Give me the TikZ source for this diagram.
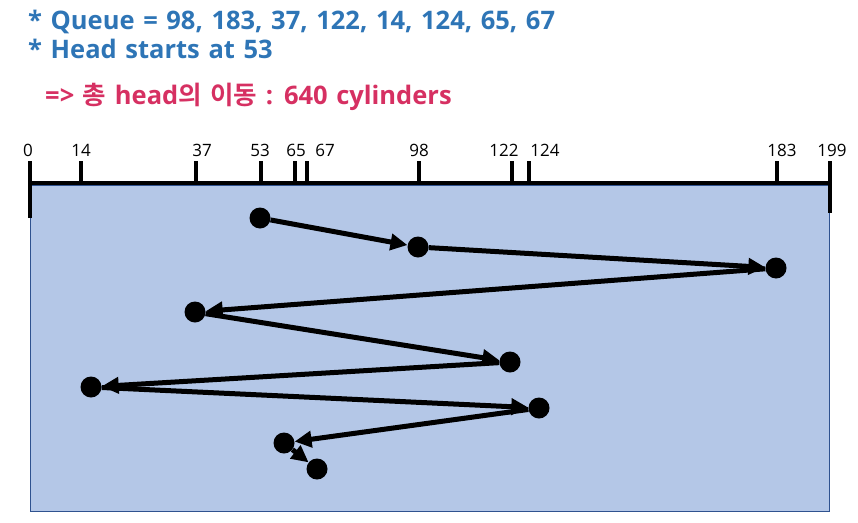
\documentclass[tikz,border=0pt]{standalone}
\usepackage{fontspec}
\setmainfont{Open Sans}[WordSpace=1.3]
\newfontfamily\krfont{Noto Sans CJK KR}[BoldFont={Noto Sans CJK KR Bold}]
\usetikzlibrary{arrows.meta}
\definecolor{queueblue}{RGB}{46,117,182}
\definecolor{totalred}{RGB}{214,48,98}
\definecolor{diskfill}{RGB}{180,199,231}
\definecolor{diskedge}{RGB}{47,82,143}

\begin{document}
\begin{tikzpicture}[x=1pt, y=-1pt,
    infotext/.style={anchor=base west, inner sep=0, text=queueblue,
                     font=\fontsize{25.5}{30}\selectfont\bfseries},
    ticklabel/.style={anchor=base, inner sep=0, font=\fontsize{17}{20}\selectfont},
    tickline/.style={line width=4.5pt, draw=black},
    dot/.style={circle, fill=black, minimum size=21pt, inner sep=0},
    seek/.style={line width=5pt, -{Triangle[length=17pt, width=16pt]}}
]
    \useasboundingbox (0,0) rectangle (858,522);

    % Header text
    \node[infotext] (queue) at (28,29) {* Queue = 98, 183, 37, 122, 14, 124, 65, 67};
    \node[infotext] (headstart) at (28,58) {* Head starts at 53};
    \node[infotext, text=totalred] (total) at (45,104)
        {=> {\krfont\bfseries 총} head{\krfont\bfseries 의} {\krfont\bfseries 이동} : 640 cylinders};

    % Disk area and cylinder axis
    \draw[fill=diskfill, draw=diskedge, line width=1pt] (30,185) rectangle (829,511);
    \draw[tickline] (30,183) -- (830,183);
    \draw[tickline] (30,183) -- (30,218);
    \draw[tickline] (830,183) -- (830,213);
    \foreach \cyl/\tx/\lx in {0/30/28, 14/81/81, 37/196/202, 53/261/260, 65/295/296,
                              67/307/325, 98/419/419, 122/512/504, 124/529/545,
                              183/777/782, 199/830/832} {
        \draw[tickline] (\tx,161) -- (\tx,183);
        \node[ticklabel] (t\cyl) at (\lx,156) {\cyl};
    }

    % Head positions in service order
    \node[dot] (c53) at (260,218) {};
    \node[dot] (c98) at (418,247) {};
    \node[dot] (c183) at (776,268) {};
    \node[dot] (c37) at (195,312) {};
    \node[dot] (c122) at (510,362) {};
    \node[dot] (c14) at (91,387) {};
    \node[dot] (c124) at (539,408) {};
    \node[dot] (c65) at (284,443) {};
    \node[dot] (c67) at (317,469) {};

    % Head movement
    \draw[seek] (c53) -- (c98);
    \draw[seek] (c98) -- (c183);
    \draw[seek] (c183) -- (c37);
    \draw[seek] (c37) -- (c122);
    \draw[seek] (c122) -- (c14);
    \draw[seek] (c14) -- (c124);
    \draw[seek] (c124) -- (c65);
    \draw[seek] (c65) -- (c67);
\end{tikzpicture}
\end{document}
